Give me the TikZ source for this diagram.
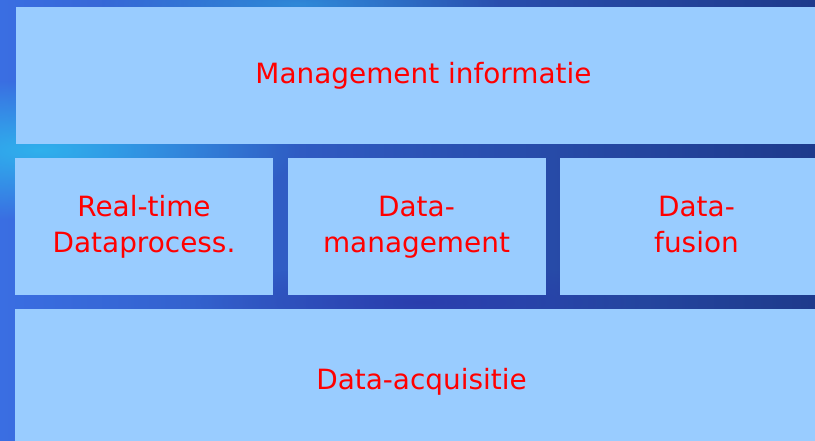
\documentclass[tikz,border=0pt]{standalone}
\usepackage{fontspec}
\setmainfont{DejaVu Sans}
\usetikzlibrary{shadings,fadings}
\definecolor{boxfill}{HTML}{99CCFF}
\definecolor{bgA}{HTML}{3A6EE2}
\definecolor{bgB}{HTML}{1E3A8C}
\definecolor{bgGlow}{HTML}{2EB8EE}
\definecolor{bgPurple}{HTML}{2A30A8}
\tikzfading[name=glowfade, inner color=transparent!0, outer color=transparent!100]
\tikzset{
  blockbox/.style={fill=boxfill, draw=none},
  lbl/.style={text=red, font=\fontsize{27.9}{36}\selectfont, inner sep=0pt}
}
\begin{document}
\begin{tikzpicture}[x=1pt,y=-1pt]
\useasboundingbox (0,0) rectangle (815,441);
\clip (0,0) rectangle (815,441);
% background
\shade[left color=bgA, right color=bgB] (0,0) rectangle (815,441);
\fill[bgGlow, path fading=glowfade, opacity=0.9] (40,150) ellipse (260 and 70);
\fill[bgGlow, path fading=glowfade, opacity=0.5] (300,4) ellipse (200 and 30);
\fill[bgPurple, path fading=glowfade, opacity=0.6] (420,302) ellipse (220 and 40);
% boxes
\path[blockbox] (16,7) rectangle (831,144);
\path[blockbox] (15,158) rectangle (273,295);
\path[blockbox] (288,158) rectangle (546,295);
\path[blockbox] (560,158) rectangle (832,295);
\path[blockbox] (15,309) rectangle (828,445);
% labels
\node[lbl] (mi) at (423.5,76.8) {Management informatie\strut};
\node[lbl, align=center] (rt) at (144,227.8) {Real-time\strut\\Dataprocess.\strut};
\node[lbl, align=center] (dm) at (416.5,227.8) {Data-\strut\\management\strut};
\node[lbl, align=center] (df) at (696.5,227.8) {Data-\strut\\fusion\strut};
\node[lbl] (da) at (421.5,381.8) {Data-acquisitie\strut};
\end{tikzpicture}
\end{document}
